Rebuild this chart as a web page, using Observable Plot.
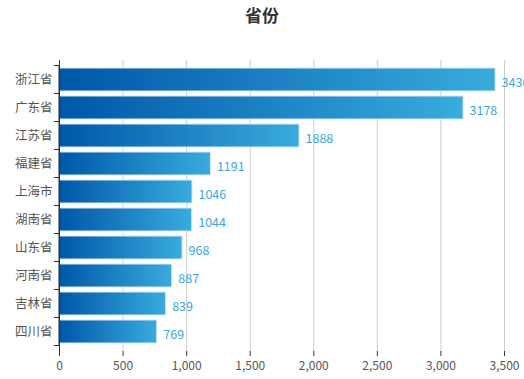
<!DOCTYPE html>
<html><head><meta charset="utf-8">
<script src="https://cdn.jsdelivr.net/npm/d3@7"></script>
<script src="https://cdn.jsdelivr.net/npm/@observablehq/plot@0.6"></script>
<style>
body{margin:0;background:#fff;font-family:"Noto Sans CJK SC","Open Sans",sans-serif;overflow:hidden}
#title{height:40px;text-align:center;font-size:17px;font-weight:bold;color:#333;line-height:30px}
#chart svg{overflow:visible;display:block}
</style></head>
<body><div id="title">省份</div><div id="chart"></div>
<script>
const provinces = ["浙江省","广东省","江苏省","福建省","上海市","湖南省","山东省","河南省","吉林省","四川省"];
const values = [3430,3178,1888,1191,1046,1044,968,887,839,769];
const xTicks = [0,500,1000,1500,2000,2500,3000,3500];
const data = provinces.map((p,i)=>({province:p,value:values[i]}));

const defs = () => {
  const d = d3.create("svg:defs");
  const g = d.append("linearGradient").attr("id","barGrad").attr("x1","0").attr("x2","1").attr("y1","0").attr("y2","0");
  g.append("stop").attr("offset","0%").attr("stop-color","#0057a8");
  g.append("stop").attr("offset","100%").attr("stop-color","#39abdd");
  return d.node();
};

const chart = Plot.plot({
  width: 524,
  height: 339,
  marginLeft: 59,
  marginRight: 20,
  marginTop: 20,
  marginBottom: 28,
  style: {fontFamily: '"Noto Sans CJK SC","Open Sans",sans-serif', fontSize: "12px", color: "#555"},
  x: {domain: [0,3500], ticks: xTicks, tickFormat: d3.format(","), label: null, tickSize: 5},
  y: {domain: provinces, label: null, padding: 0.18, tickSize: 0},
  marks: [
    defs,
    Plot.gridX(xTicks.filter(d=>d>0), {stroke:"#ccc", strokeOpacity:1}),
    Plot.barX(data, {x:"value", y:"province", fill:"url(#barGrad)", stroke:"#d6ebf8", strokeWidth:1}),
    Plot.text(data, {x:"value", y:"province", text:d=>String(d.value), textAnchor:"start", dx:6, dy:3, fill:"#3aa7dc", fontSize:12.5}),
    Plot.axisY({tickSize:0, tickPadding:7, fontSize:12.5, color:"#555"}),
    Plot.ruleX([0], {stroke:"#333"}),
    Plot.ruleY([0], {stroke:"#333"}),
    Plot.axisX({ticks: xTicks, tickFormat: d3.format(","), tickSize:5, tickPadding:5, fontSize:12, color:"#555", stroke:"#333"})
  ]
});
document.getElementById("chart").appendChild(chart);

// y band boundary ticks drawn from the y scale
const ys = chart.scale("y");
const svg = d3.select(chart);
const bw = ys.bandwidth !== undefined ? ys.bandwidth : 0;
const step = ys.step;
const first = ys.apply(provinces[0]) - (step - bw)/2;
const gT = svg.append("g").attr("stroke","#333");
for (let i=0;i<=provinces.length;i++){
  const y = first + i*step;
  gT.append("line").attr("x1",54).attr("x2",59).attr("y1",y).attr("y2",y);
}
gT.append("line").attr("x1",59).attr("x2",59).attr("y1",first).attr("y2",first+provinces.length*step);
</script></body></html>
